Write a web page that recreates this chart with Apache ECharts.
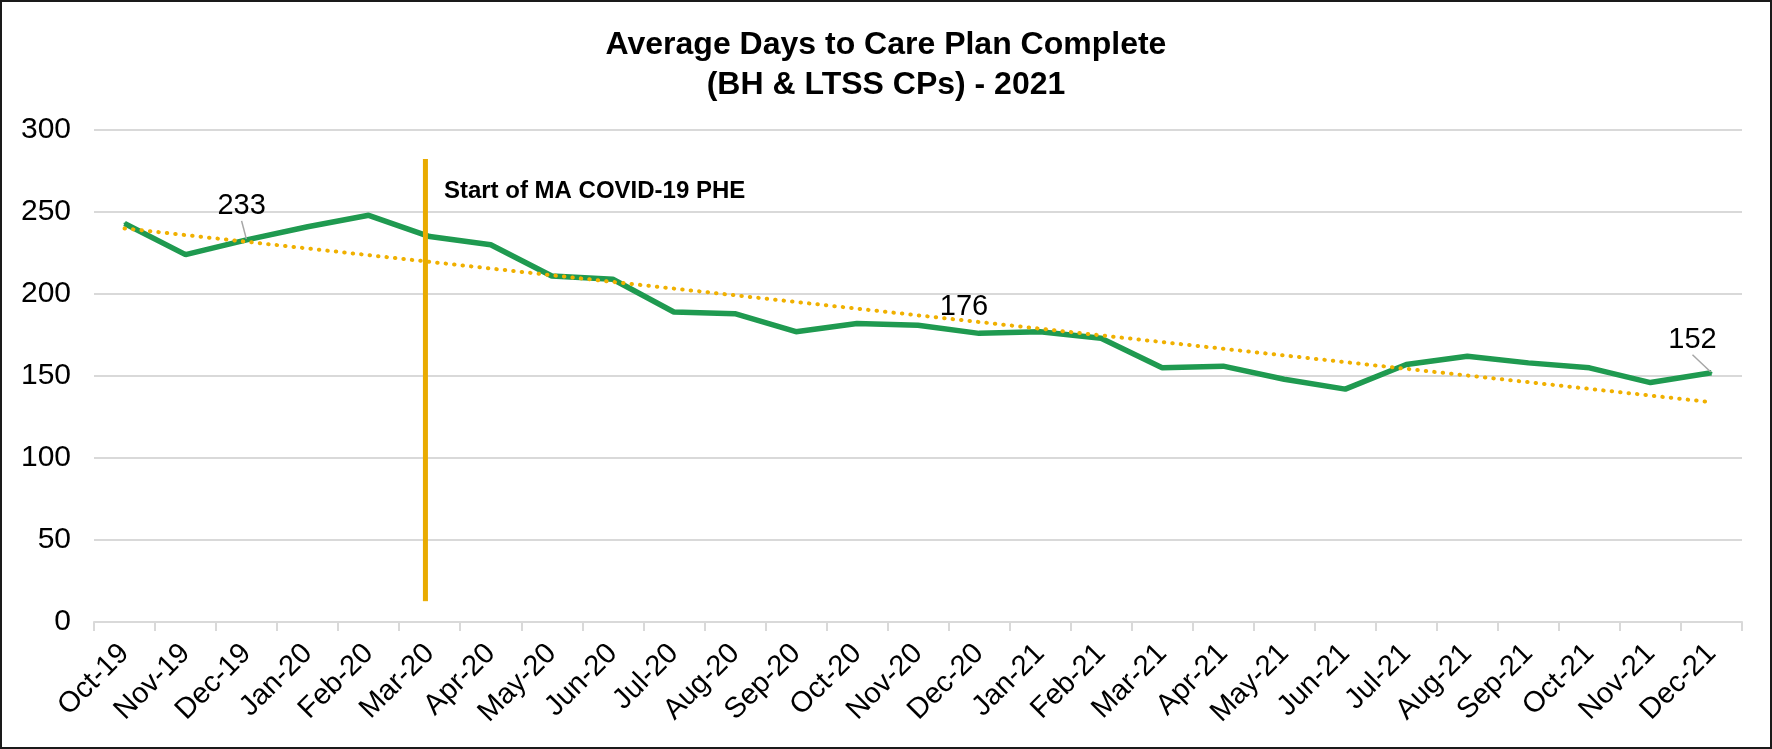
<!DOCTYPE html>
<html>
<head>
<meta charset="utf-8">
<title>Average Days to Care Plan Complete</title>
<script src="https://cdn.jsdelivr.net/npm/echarts@6/dist/echarts.min.js"></script>
<style>
    html, body { margin: 0; padding: 0; background: #fff; }
    .chartsView {
        position: relative;
        width: 1772px;
        height: 749px;
    }
    #myCharts {
        width: 100%;
        height: 100%;
    }
    /* outer frame of the picture */
    .chartsView:after {
        content: "";
        position: absolute;
        left: 0; top: 0; right: 0; bottom: 0;
        border: 2px solid #1a1a1a;
        pointer-events: none;
    }
</style>
</head>
<body>
<div class="chartsView">
    <div id="myCharts"></div>
</div>
<script>
// months on the x axis
const months = ['Oct-19', 'Nov-19', 'Dec-19', 'Jan-20', 'Feb-20', 'Mar-20', 'Apr-20', 'May-20', 'Jun-20',
    'Jul-20', 'Aug-20', 'Sep-20', 'Oct-20', 'Nov-20', 'Dec-20', 'Jan-21', 'Feb-21', 'Mar-21',
    'Apr-21', 'May-21', 'Jun-21', 'Jul-21', 'Aug-21', 'Sep-21', 'Oct-21', 'Nov-21', 'Dec-21']
// average days to care plan complete
const avgDays = [243, 224, 233, 241, 248, 235, 230, 211, 209,
    189, 188, 177, 182, 181, 176, 177, 173, 155,
    156, 148, 142, 157, 162, 158, 155, 146, 152]
// points that carry a value label
const labelledMonths = ['Dec-19', 'Dec-20', 'Dec-21']
// linear trend, value at first and last month
const trendValues = [240, 134]
// start of the PHE marker (month position, top and bottom value)
const covidPos = 4.93
const covidSpan = [282, 13]
const covidText = 'Start of MA COVID-19 PHE'
const yTicks = [0, 50, 100, 150, 200, 250, 300]

const fontFamily = '"Liberation Sans", Arial, sans-serif'

// where each value label sits relative to its point
const labelShift = {
    'Dec-19': [-5, -13],
    'Dec-20': [-15, -6],
    'Dec-21': [-19, -12]
}

let chartOptions = {
    animation: false,
    backgroundColor: '#fff',
    textStyle: { fontFamily: fontFamily },
    title: {
        text: 'Average Days to Care Plan Complete\n(BH & LTSS CPs) - 2021',
        left: 'center',
        top: 20,
        textStyle: {
            color: '#000',
            fontSize: 32,
            fontWeight: 'bold',
            lineHeight: 40,
            fontFamily: fontFamily
        }
    },
    grid: {
        left: 94,
        right: 30,
        top: 130,
        bottom: 127
    },
    xAxis: [
        {
            type: 'category',
            data: months,
            boundaryGap: true,
            axisLine: { lineStyle: { color: '#d9d9d9', width: 2 } },
            axisTick: { show: true, length: 9, lineStyle: { color: '#d9d9d9', width: 2 } },
            axisLabel: {
                rotate: 45,
                interval: 0,
                margin: 27,
                color: '#000',
                fontSize: 29,
                fontFamily: fontFamily
            },
            splitLine: { show: false }
        },
        {
            // hidden month-position axis for the trend and marker lines
            type: 'value',
            min: -0.5,
            max: months.length - 0.5,
            show: false
        }
    ],
    yAxis: {
        type: 'value',
        min: yTicks[0],
        max: yTicks[yTicks.length - 1],
        interval: 50,
        axisLine: { show: false },
        axisTick: { show: false },
        axisLabel: {
            margin: 23,
            color: '#000',
            fontSize: 30,
            fontFamily: fontFamily
        },
        splitLine: { lineStyle: { color: '#d9d9d9', width: 2 } }
    },
    series: [
        {
            name: 'Average Days',
            type: 'line',
            xAxisIndex: 0,
            z: 2,
            symbol: 'circle',
            symbolSize: 2,
            itemStyle: { color: '#1f9a50' },
            lineStyle: { color: '#1f9a50', width: 5.5 },
            data: avgDays.map((v, i) => {
                if (labelledMonths.indexOf(months[i]) < 0) return v
                return {
                    value: v,
                    label: { show: true },
                    labelLine: { show: months[i] !== 'Dec-20' }
                }
            }),
            label: {
                show: false,
                position: 'top',
                color: '#000',
                fontSize: 29,
                fontFamily: fontFamily
            },
            labelLine: {
                show: false,
                lineStyle: { color: '#a6a6a6', width: 1.5 }
            },
            labelLayout: function (params) {
                let shift = labelShift[months[params.dataIndex]]
                if (!shift) return {}
                return { dx: shift[0], dy: shift[1] }
            }
        },
        {
            name: 'Trend',
            type: 'line',
            xAxisIndex: 1,
            z: 3,
            symbol: 'none',
            lineStyle: { color: '#f0b000', width: 4, type: [0.5, 8], cap: 'round' },
            data: [[0, trendValues[0]], [months.length - 1, trendValues[1]]]
        },
        {
            name: 'PHE',
            type: 'line',
            xAxisIndex: 1,
            z: 4,
            symbol: 'rect',
            symbolSize: [5, 1],
            itemStyle: { color: '#e9ab00' },
            lineStyle: { color: '#e9ab00', width: 5 },
            data: [
                {
                    value: [covidPos, covidSpan[0]],
                    label: {
                        show: true,
                        position: 'right',
                        distance: 5,
                        offset: [11, 32],
                        formatter: covidText,
                        color: '#000',
                        fontSize: 24,
                        fontWeight: 'bold',
                        fontFamily: fontFamily
                    }
                },
                [covidPos, covidSpan[1]]
            ]
        }
    ]
}

let myCharts = echarts.init(document.getElementById('myCharts'))
myCharts.setOption(chartOptions)
</script>
</body>
</html>
